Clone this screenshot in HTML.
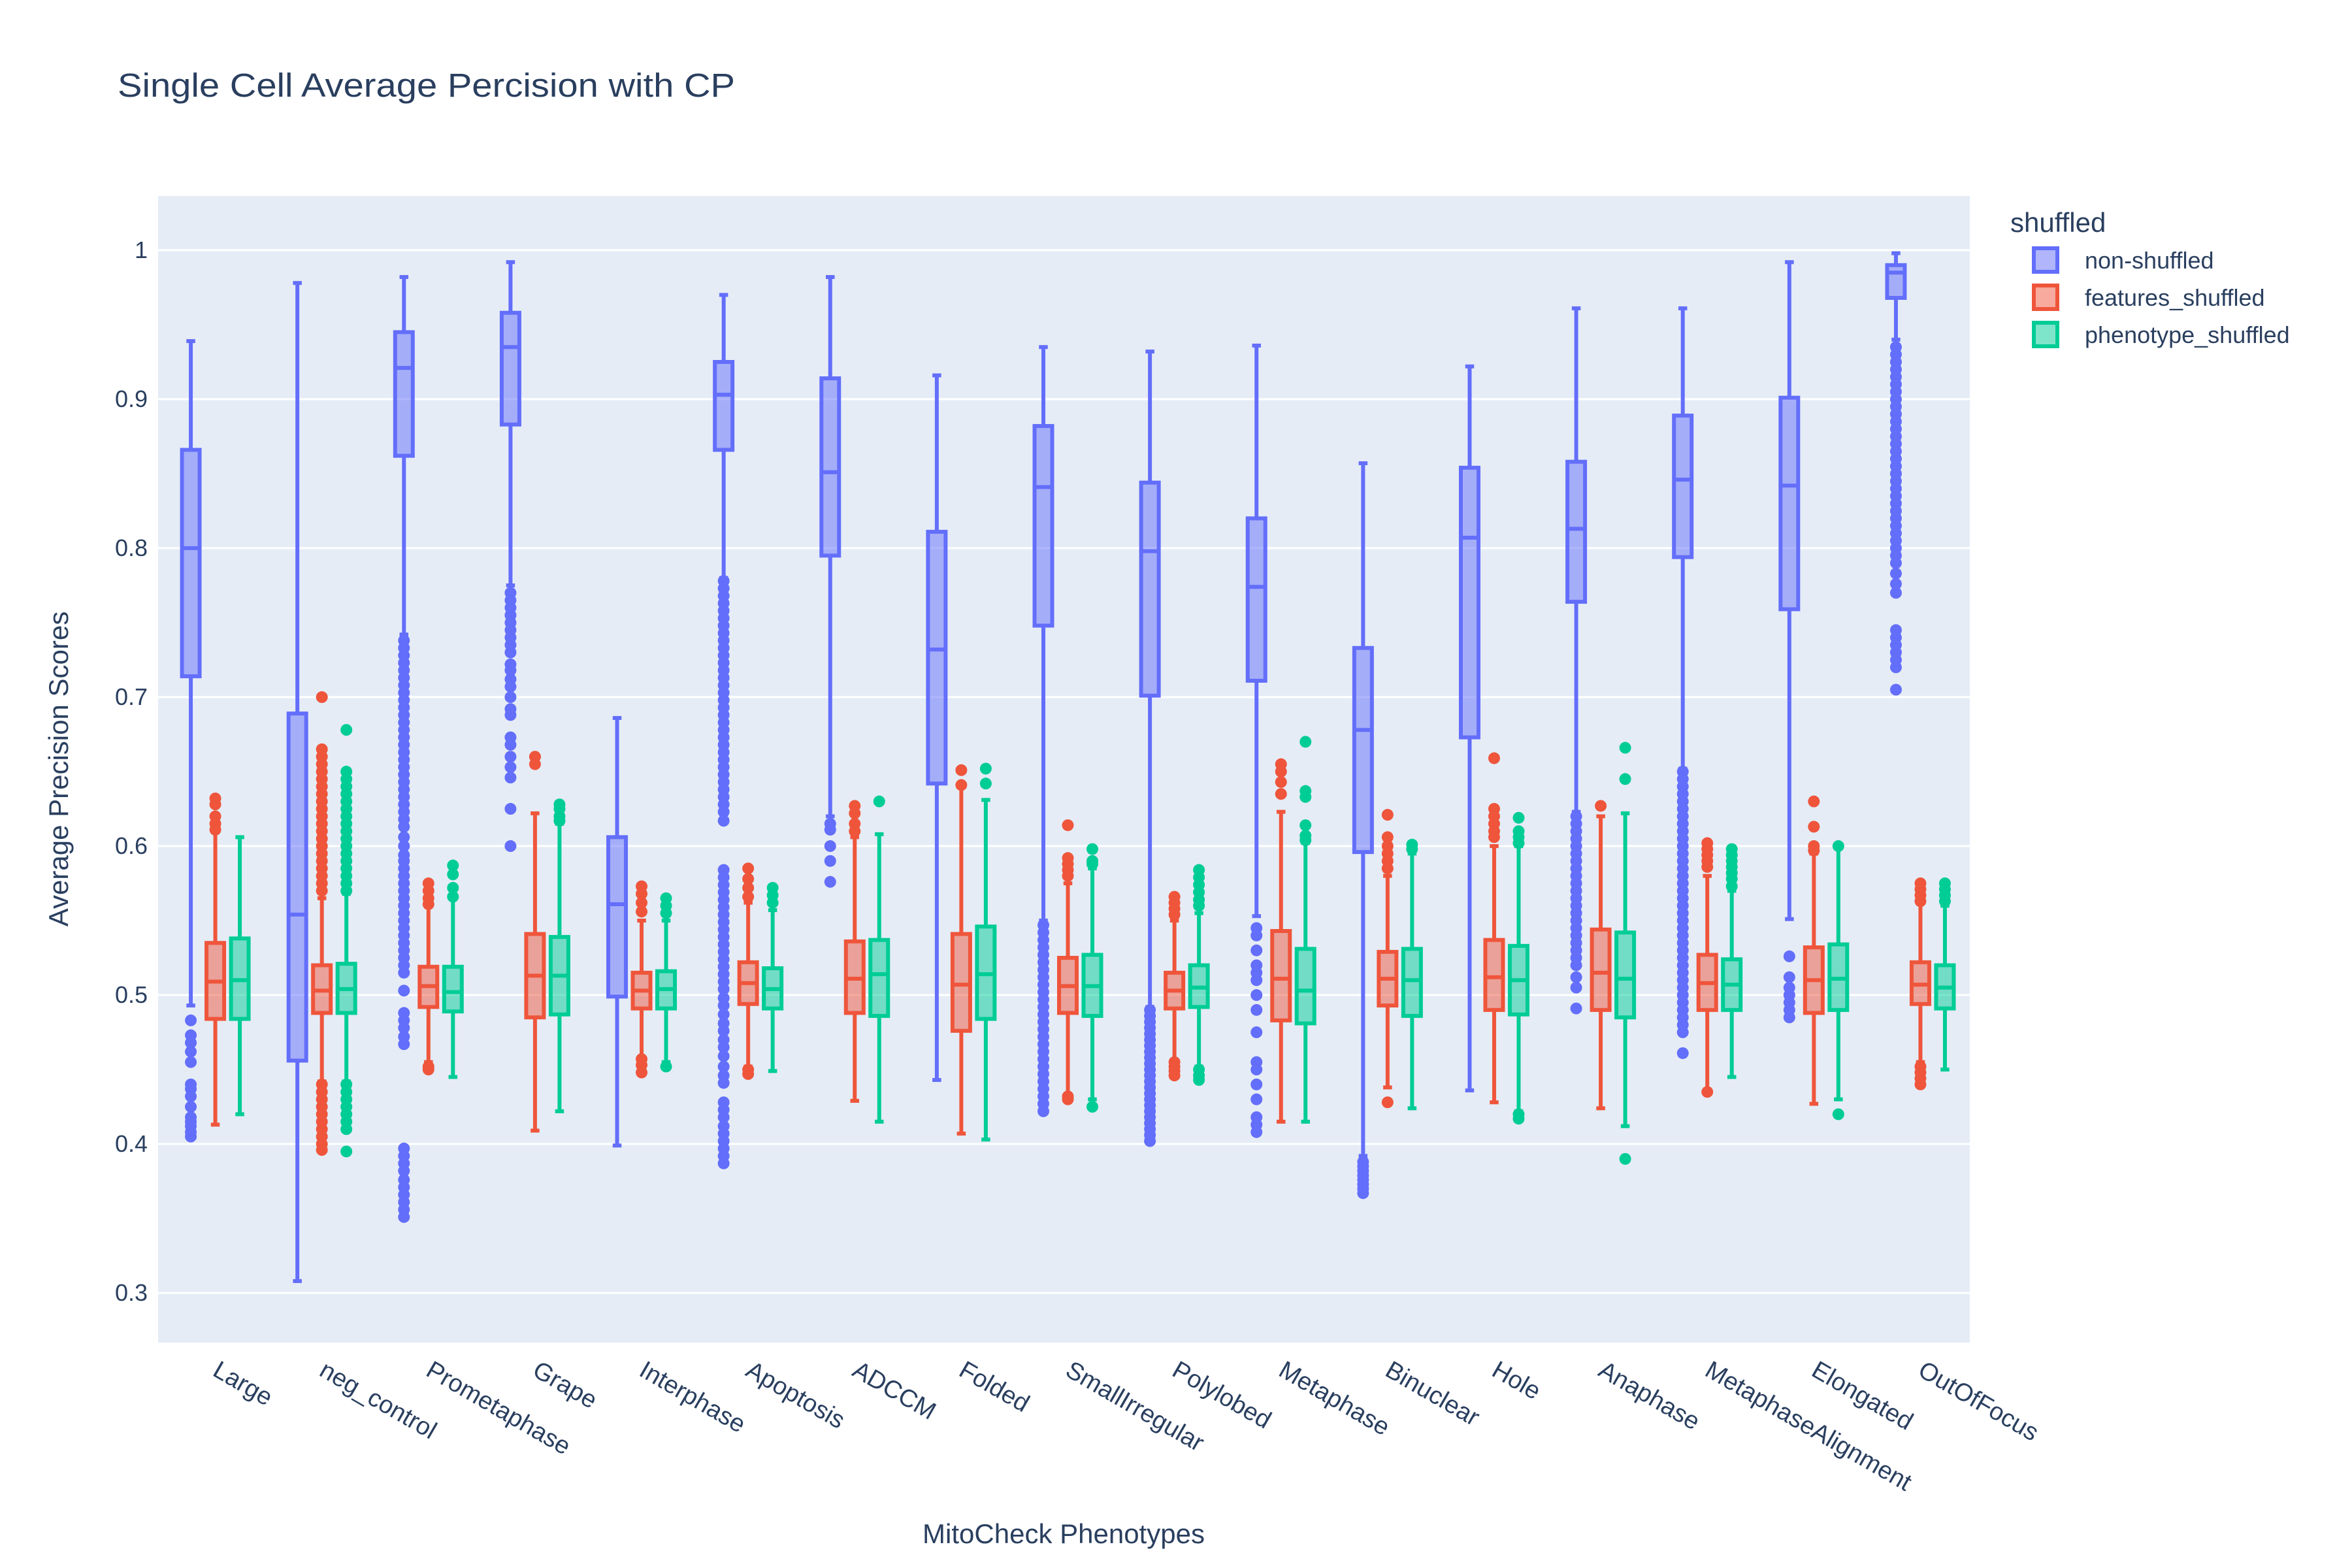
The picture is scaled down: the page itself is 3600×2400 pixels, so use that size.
<!DOCTYPE html>
<html><head><meta charset="utf-8">
<style>
html,body{margin:0;padding:0;background:#fff;}
svg{display:block;font-family:"Liberation Sans",sans-serif;}
</style></head>
<body>
<svg id="chart" width="3600" height="2400" viewBox="0 0 3600 2400" xmlns="http://www.w3.org/2000/svg">
  <rect x="0" y="0" width="3600" height="2400" fill="#ffffff"/>
  <rect x="242" y="300" width="2773" height="1755" fill="#E5ECF6"/>
  <g id="grid"></g>
  <g id="yticks"></g>
  <g id="boxes"></g>
  <g id="xticks"></g>
  <text x="180" y="148" font-size="51" fill="#2a3f5f" textLength="945" lengthAdjust="spacingAndGlyphs">Single Cell Average Percision with CP</text>
  <text x="0" y="0" font-size="42" fill="#2a3f5f" text-anchor="middle" transform="translate(104,1177) rotate(-90)">Average Precision Scores</text>
  <text x="1628" y="2362" font-size="42" fill="#2a3f5f" text-anchor="middle">MitoCheck Phenotypes</text>
  <g>
    <text x="3077" y="355" font-size="42" fill="#2a3f5f">shuffled</text>
    <g>
      <rect x="3113" y="380" width="36" height="36" fill="rgba(99,110,250,0.5)" stroke="#636efa" stroke-width="6"/>
      <text x="3191" y="411" font-size="36" fill="#2a3f5f">non-shuffled</text>
    </g>
    <g>
      <rect x="3113" y="437" width="36" height="36" fill="rgba(239,85,59,0.5)" stroke="#EF553B" stroke-width="6"/>
      <text x="3191" y="468" font-size="36" fill="#2a3f5f">features_shuffled</text>
    </g>
    <g>
      <rect x="3113" y="494" width="36" height="36" fill="rgba(0,204,150,0.5)" stroke="#00cc96" stroke-width="6"/>
      <text x="3191" y="525" font-size="36" fill="#2a3f5f">phenotype_shuffled</text>
    </g>
  </g>
</svg>
<script>
const categories = ["Large","neg_control","Prometaphase","Grape","Interphase","Apoptosis","ADCCM","Folded","SmallIrregular","Polylobed","Metaphase","Binuclear","Hole","Anaphase","MetaphaseAlignment","Elongated","OutOfFocus"];
const yTicks = [0.3,0.4,0.5,0.6,0.7,0.8,0.9,1];
const yTickLabels = ["0.3","0.4","0.5","0.6","0.7","0.8","0.9","1"];
const seriesNames = ["non-shuffled","features_shuffled","phenotype_shuffled"];
// [lowerFence, q1, median, q3, upperFence] per category
const nsStats = [
[0.493,0.714,0.800,0.866,0.939],[0.308,0.456,0.554,0.689,0.978],[0.742,0.862,0.921,0.945,0.982],[0.775,0.883,0.935,0.958,0.992],
[0.399,0.499,0.561,0.606,0.686],[0.780,0.866,0.903,0.925,0.970],[0.620,0.795,0.851,0.914,0.982],[0.443,0.642,0.732,0.811,0.916],
[0.550,0.748,0.841,0.882,0.935],[0.492,0.701,0.798,0.844,0.932],[0.553,0.711,0.774,0.820,0.936],[0.392,0.596,0.678,0.733,0.857],
[0.436,0.673,0.807,0.854,0.922],[0.623,0.764,0.813,0.858,0.961],[0.652,0.794,0.846,0.889,0.961],[0.551,0.759,0.842,0.901,0.992],
[0.940,0.968,0.985,0.990,0.998]];
const fsStats = [
[0.413,0.484,0.509,0.535,0.610],[0.442,0.488,0.503,0.520,0.565],[0.455,0.492,0.506,0.519,0.560],[0.409,0.485,0.513,0.541,0.622],
[0.458,0.491,0.503,0.515,0.550],[0.452,0.494,0.508,0.522,0.562],[0.429,0.488,0.511,0.536,0.606],[0.407,0.476,0.507,0.541,0.640],
[0.433,0.488,0.506,0.525,0.575],[0.455,0.491,0.503,0.515,0.550],[0.415,0.483,0.511,0.543,0.623],[0.438,0.493,0.511,0.529,0.580],
[0.428,0.490,0.512,0.537,0.600],[0.424,0.490,0.515,0.544,0.620],[0.436,0.490,0.508,0.527,0.580],[0.427,0.488,0.510,0.532,0.595],
[0.455,0.494,0.507,0.522,0.562]];
const psStats = [
[0.420,0.484,0.510,0.538,0.606],[0.442,0.488,0.504,0.521,0.568],[0.445,0.489,0.502,0.519,0.565],[0.422,0.487,0.513,0.539,0.615],
[0.455,0.491,0.504,0.516,0.550],[0.449,0.491,0.504,0.518,0.557],[0.415,0.486,0.514,0.537,0.608],[0.403,0.484,0.514,0.546,0.631],
[0.430,0.486,0.506,0.527,0.585],[0.452,0.492,0.505,0.520,0.555],[0.415,0.481,0.503,0.531,0.602],[0.424,0.486,0.510,0.531,0.595],
[0.422,0.487,0.510,0.533,0.600],[0.412,0.485,0.511,0.542,0.622],[0.445,0.490,0.507,0.524,0.570],[0.430,0.490,0.511,0.534,0.600],
[0.450,0.491,0.505,0.520,0.560]];
const nsOutliers = [
[0.483,0.473,0.468,0.462,0.455,0.440,0.437,0.432,0.425,0.418,0.415,0.412,0.408,0.405],
[],
[0.738,0.733,0.728,0.723,0.718,0.713,0.708,0.703,0.698,0.693,0.688,0.683,0.678,0.673,0.668,0.663,0.658,0.653,0.648,0.643,0.638,0.633,0.628,0.623,0.618,0.613,0.606,0.600,0.594,0.590,0.585,0.580,0.575,0.570,0.565,0.560,0.555,0.550,0.545,0.540,0.535,0.530,0.525,0.520,0.515,0.503,0.488,0.483,0.478,0.472,0.467,0.397,0.392,0.387,0.382,0.376,0.371,0.366,0.361,0.356,0.351],
[0.770,0.765,0.760,0.755,0.750,0.745,0.740,0.735,0.730,0.722,0.718,0.712,0.707,0.700,0.692,0.688,0.673,0.668,0.660,0.653,0.646,0.625,0.600],
[],
[0.778,0.773,0.768,0.763,0.758,0.753,0.748,0.743,0.738,0.733,0.728,0.723,0.718,0.713,0.708,0.703,0.698,0.693,0.688,0.683,0.678,0.673,0.668,0.663,0.658,0.653,0.648,0.643,0.638,0.633,0.628,0.623,0.617,0.584,0.579,0.574,0.569,0.564,0.559,0.554,0.549,0.544,0.539,0.534,0.529,0.524,0.519,0.514,0.509,0.504,0.498,0.493,0.487,0.481,0.476,0.470,0.465,0.459,0.452,0.446,0.441,0.428,0.423,0.418,0.412,0.407,0.402,0.397,0.392,0.387],
[0.615,0.611,0.600,0.590,0.576],
[],
[0.547,0.542,0.537,0.532,0.527,0.522,0.517,0.512,0.507,0.502,0.497,0.492,0.487,0.482,0.477,0.472,0.467,0.462,0.457,0.452,0.447,0.442,0.437,0.432,0.427,0.422],
[0.490,0.486,0.482,0.478,0.474,0.470,0.466,0.462,0.458,0.454,0.450,0.446,0.442,0.438,0.434,0.430,0.426,0.422,0.418,0.414,0.410,0.406,0.402],
[0.545,0.540,0.530,0.520,0.515,0.510,0.500,0.490,0.475,0.455,0.450,0.440,0.430,0.418,0.413,0.408],
[0.388,0.385,0.382,0.379,0.376,0.373,0.370,0.367],
[],
[0.620,0.615,0.610,0.605,0.600,0.595,0.590,0.585,0.580,0.575,0.570,0.565,0.560,0.555,0.550,0.545,0.540,0.535,0.530,0.525,0.520,0.512,0.505,0.491],
[0.650,0.645,0.640,0.635,0.630,0.625,0.620,0.615,0.610,0.605,0.600,0.595,0.590,0.585,0.580,0.575,0.570,0.565,0.560,0.555,0.550,0.545,0.540,0.535,0.530,0.525,0.520,0.515,0.510,0.505,0.500,0.495,0.490,0.485,0.480,0.475,0.461],
[0.526,0.512,0.505,0.500,0.495,0.490,0.485],
[0.935,0.930,0.925,0.920,0.915,0.910,0.905,0.900,0.895,0.890,0.885,0.880,0.875,0.870,0.865,0.860,0.855,0.850,0.845,0.840,0.835,0.830,0.825,0.820,0.815,0.810,0.805,0.800,0.795,0.790,0.783,0.776,0.770,0.745,0.740,0.735,0.730,0.725,0.720,0.705]];
const fsOutliers = [
[0.632,0.628,0.620,0.615,0.611],
[0.700,0.665,0.660,0.655,0.650,0.645,0.640,0.635,0.630,0.625,0.620,0.615,0.610,0.605,0.600,0.595,0.590,0.585,0.580,0.575,0.570,0.440,0.435,0.430,0.425,0.420,0.415,0.410,0.405,0.400,0.396],
[0.575,0.570,0.565,0.561,0.452,0.450],
[0.660,0.655],
[0.573,0.568,0.562,0.556,0.457,0.453,0.448],
[0.585,0.578,0.572,0.566,0.450,0.447],
[0.627,0.622,0.615,0.610],
[0.651,0.641],
[0.614,0.592,0.588,0.584,0.580,0.432,0.430],
[0.566,0.562,0.558,0.554,0.455,0.452,0.449,0.446],
[0.655,0.650,0.643,0.635],
[0.621,0.606,0.600,0.595,0.590,0.585,0.428],
[0.659,0.625,0.620,0.615,0.610,0.606],
[0.627],
[0.602,0.598,0.594,0.590,0.586,0.435],
[0.630,0.613,0.600,0.597],
[0.575,0.571,0.567,0.563,0.452,0.448,0.444,0.440]];
const psOutliers = [
[],
[0.678,0.650,0.645,0.640,0.635,0.630,0.625,0.620,0.615,0.610,0.605,0.600,0.595,0.590,0.585,0.580,0.575,0.570,0.440,0.435,0.430,0.425,0.420,0.415,0.410,0.395],
[0.587,0.581,0.572,0.566],
[0.628,0.625,0.620,0.617],
[0.565,0.560,0.555,0.452],
[0.572,0.567,0.562],
[0.630],
[0.652,0.642],
[0.598,0.590,0.588,0.425],
[0.584,0.579,0.574,0.569,0.564,0.560,0.450,0.446,0.443],
[0.670,0.637,0.633,0.614,0.607,0.604],
[0.601,0.598],
[0.619,0.610,0.606,0.602,0.420,0.417],
[0.666,0.645,0.390],
[0.598,0.594,0.590,0.586,0.582,0.578,0.573],
[0.600,0.420],
[0.575,0.571,0.567,0.563]];

const NS = "http://www.w3.org/2000/svg";
const plotL = 242, plotR = 3015, plotT = 300, plotB = 2055;
const yMin = 0.2667, yMax = 1.0364;
function yScale(v){ return plotB - (v - yMin) / (yMax - yMin) * (plotB - plotT); }
const band = (plotR - plotL) / categories.length;
function xScale(i){ return plotL + 6 + band * (i + 0.5); }
const colors = ["#636efa","#EF553B","#00cc96"];
const fills = ["rgba(99,110,250,0.5)","rgba(239,85,59,0.5)","rgba(0,204,150,0.5)"];
const offsets = [-37.5, 0, 37.5];
const boxW = 27;
function mk(tag, attrs, parent){
  const e = document.createElementNS(NS, tag);
  for (const k in attrs) e.setAttribute(k, attrs[k]);
  parent.appendChild(e);
  return e;
}
const grid = document.getElementById('grid');
const ytk = document.getElementById('yticks');
yTicks.forEach((t, k) => {
  const y = yScale(t);
  const ln = mk('line', {x1: plotL, x2: plotR, y1: y, y2: y, stroke: '#ffffff', 'stroke-width': 3}, grid);
  
  
  const tx = mk('text', {x: 226, y: y + 12, 'text-anchor': 'end', 'font-size': 36, fill: '#2a3f5f'}, ytk);
  tx.textContent = yTickLabels[k];
  
  
});
const xtk = document.getElementById('xticks');
categories.forEach((c, i) => {
  const tx = mk('text', {x: 0, y: 0, 'font-size': 38, fill: '#2a3f5f', transform: 'translate(' + (xScale(i) + 8) + ',' + 2080 + ') rotate(30)'}, xtk);
  tx.setAttribute('dy', '28');
  tx.textContent = c;
  
  
});
const boxes = document.getElementById('boxes');
const allStats = [nsStats, fsStats, psStats];
const allOut = [nsOutliers, fsOutliers, psOutliers];
allStats.forEach((stats, s) => {
  stats.forEach((st, i) => {
    const cx = xScale(i) + offsets[s];
    const g = mk('g', {}, boxes);
    
    
    const [lo, q1, md, q3, hi] = st;
    const col = colors[s];
    const w1 = mk('line', {x1: cx, x2: cx, y1: yScale(q3), y2: yScale(hi), stroke: col, 'stroke-width': 6}, g);
    
    
    const w2 = mk('line', {x1: cx, x2: cx, y1: yScale(q1), y2: yScale(lo), stroke: col, 'stroke-width': 6}, g);
    
    
    const c1 = mk('line', {x1: cx - boxW / 4, x2: cx + boxW / 4, y1: yScale(hi), y2: yScale(hi), stroke: col, 'stroke-width': 6}, g);
    
    
    const c2 = mk('line', {x1: cx - boxW / 4, x2: cx + boxW / 4, y1: yScale(lo), y2: yScale(lo), stroke: col, 'stroke-width': 6}, g);
    
    
    const r = mk('rect', {x: cx - boxW / 2, y: yScale(q3), width: boxW, height: yScale(q1) - yScale(q3), fill: fills[s], stroke: col, 'stroke-width': 6}, g);
    
    
    const m = mk('line', {x1: cx - boxW / 2, x2: cx + boxW / 2, y1: yScale(md), y2: yScale(md), stroke: col, 'stroke-width': 6}, g);
    
    
    allOut[s][i].forEach(v => {
      const p = mk('circle', {cx: cx, cy: yScale(v), r: 9, fill: col}, g);
      
      
    });
  });
});
</script>
</body></html>
